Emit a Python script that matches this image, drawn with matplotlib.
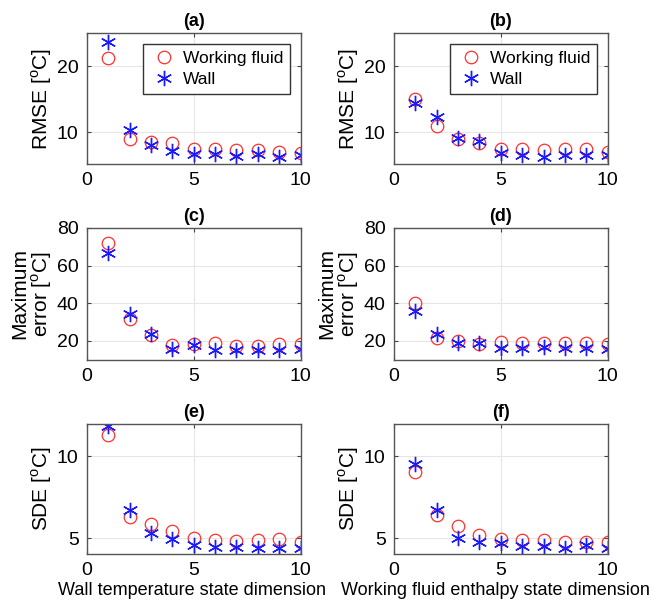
import matplotlib
matplotlib.use('Agg')
import matplotlib.pyplot as plt

plt.rcParams['font.family'] = ['Liberation Sans', 'DejaVu Sans']
plt.rcParams['mathtext.fontset'] = 'custom'
plt.rcParams['mathtext.rm'] = 'Liberation Sans'

# State dimension
dims = [1, 2, 3, 4, 5, 6, 7, 8, 9, 10]

# (a) RMSE, wall temperature state dimension
rmse_wall_fluid = [21.3, 9.0, 8.5, 8.3, 7.5, 7.5, 7.3, 7.3, 7.0, 6.9]
rmse_wall_wall = [23.7, 10.4, 8.0, 7.1, 6.7, 6.7, 6.4, 6.7, 6.3, 6.6]
# (b) RMSE, working fluid enthalpy state dimension
rmse_enth_fluid = [15.1, 10.9, 8.9, 8.4, 7.4, 7.4, 7.3, 7.4, 7.4, 7.0]
rmse_enth_wall = [14.4, 12.3, 9.1, 8.7, 6.9, 6.6, 6.3, 6.6, 6.6, 6.5]
# (c) Maximum error, wall temperature state dimension
max_wall_fluid = [71.8, 31.5, 23.2, 17.9, 18.2, 18.8, 17.5, 17.5, 18.2, 18.2]
max_wall_wall = [66.6, 34.3, 23.6, 15.7, 17.9, 15.2, 15.2, 15.2, 15.2, 15.7]
# (d) Maximum error, working fluid enthalpy state dimension
max_enth_fluid = [40.2, 21.8, 20.2, 18.6, 19.6, 19.1, 18.8, 19.1, 18.8, 18.4]
max_enth_wall = [35.7, 23.8, 18.8, 18.8, 16.4, 16.1, 17.0, 16.1, 16.1, 15.5]
# (e) SDE, wall temperature state dimension
sde_wall_fluid = [11.3, 6.31, 5.86, 5.45, 5.04, 4.92, 4.84, 4.90, 4.94, 4.80]
sde_wall_wall = [11.84, 6.74, 5.31, 4.94, 4.59, 4.49, 4.49, 4.43, 4.43, 4.39]
# (f) SDE, working fluid enthalpy state dimension
sde_enth_fluid = [9.04, 6.43, 5.76, 5.20, 4.94, 4.88, 4.92, 4.80, 4.80, 4.80]
sde_enth_wall = [9.51, 6.74, 5.04, 4.80, 4.69, 4.53, 4.53, 4.43, 4.59, 4.39]

panels = [
    ('(a)', rmse_wall_fluid, rmse_wall_wall, 'RMSE [$^{\\mathrm{o}}$C]', (5.2, 25), [10, 20]),
    ('(b)', rmse_enth_fluid, rmse_enth_wall, 'RMSE [$^{\\mathrm{o}}$C]', (5.2, 25), [10, 20]),
    ('(c)', max_wall_fluid, max_wall_wall, 'Maximum\nerror [$^{\\mathrm{o}}$C]', (10, 80), [20, 40, 60, 80]),
    ('(d)', max_enth_fluid, max_enth_wall, 'Maximum\nerror [$^{\\mathrm{o}}$C]', (10, 80), [20, 40, 60, 80]),
    ('(e)', sde_wall_fluid, sde_wall_wall, 'SDE [$^{\\mathrm{o}}$C]', (4.06, 12), [5, 10]),
    ('(f)', sde_enth_fluid, sde_enth_wall, 'SDE [$^{\\mathrm{o}}$C]', (4.06, 12), [5, 10]),
]

xlabels = ['Wall temperature state dimension', 'Working fluid enthalpy state dimension']
xlabel_pos = [0.49, 0.475]

fig = plt.figure(figsize=(6.59, 6.14), dpi=100)
lefts = [0.132, 0.598]
bottoms = [0.733, 0.414, 0.098]
heights = [0.213, 0.215, 0.212]

for i, (title, fluid, wall, ylab, ylim, yticks) in enumerate(panels):
    row, col = i // 2, i % 2
    ax = fig.add_axes([lefts[col], bottoms[row], 0.324, heights[row]])
    ax.plot(dims, fluid, 'o', color='#ff3030', markerfacecolor='none',
            markersize=9, markeredgewidth=0.9, label='Working fluid')
    ax.plot(dims, wall, linestyle='none', marker=(6, 2, 0), color='#1a1aff',
            markersize=11, markeredgewidth=1.0, label='Wall')
    ax.set_xlim(0, 10)
    ax.set_ylim(*ylim)
    ax.set_xticks([0, 5, 10])
    ax.set_yticks(yticks)
    ax.grid(True, color='#e6e6e6', linewidth=0.8)
    ax.set_axisbelow(True)
    ax.tick_params(direction='in', top=True, right=True, labelsize=14,
                   length=3, color='#444444', pad=6)
    for s in ax.spines.values():
        s.set_color('#555555')
        s.set_linewidth(1.0)
    ax.set_title(title, fontsize=13, fontweight='bold', pad=5)
    ax.set_ylabel(ylab, fontsize=15, linespacing=1.0, labelpad=2)
    if row == 0:
        ax.legend(loc='upper right', fontsize=12.5, fancybox=False, edgecolor='#333333',
                  framealpha=1, borderpad=0.4, handletextpad=0.3, labelspacing=0.35,
                  handlelength=1.6, borderaxespad=0.6)
    if row == 2:
        ax.set_xlabel(xlabels[col], fontsize=13, labelpad=2, x=xlabel_pos[col])

fig.savefig('out.png', dpi=100)
